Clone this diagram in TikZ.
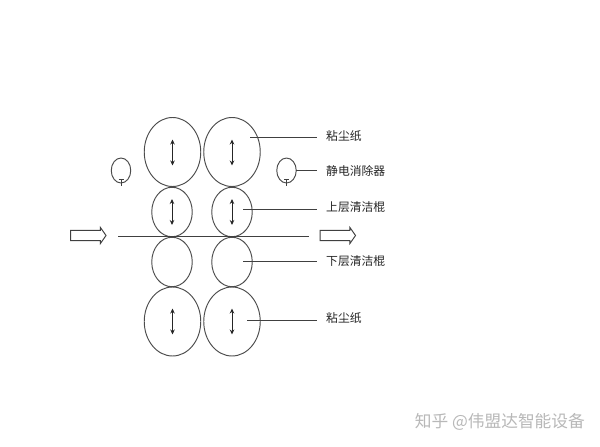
\documentclass[tikz,border=0pt]{standalone}
\usepackage{fontspec}
\newfontfamily\cjk{Noto Sans CJK SC}
\usetikzlibrary{shapes.geometric,shapes.arrows,arrows.meta}
\tikzset{
 roller/.style={draw=black!70,line width=0.95pt,ellipse,inner sep=0pt,minimum width=#1},
 bigroller/.style={roller=56.5pt,minimum height=69pt},
 midroller/.style={roller=40.5pt,minimum height=49.5pt},
 smallroller/.style={roller=19.5pt,minimum height=25pt},
 leader/.style={draw=black!75,line width=0.85pt},
 updown/.style={draw=black!85,line width=0.95pt,{Stealth[length=5pt,width=4.5pt]}-{Stealth[length=5pt,width=4.5pt]}},
 flow/.style={draw=black!75,line width=0.95pt,fill=white,single arrow,inner xsep=0pt,inner ysep=4.6pt,minimum height=35.5pt,single arrow head extend=3pt,single arrow tip angle=110},
 lbl/.style={font=\cjk\fontsize{11.8pt}{12pt}\selectfont,text=black!85,anchor=west,inner sep=0pt}
}
\begin{document}
\begin{tikzpicture}[x=1pt,y=-1pt]
\useasboundingbox (0,0) rectangle (600,447);
\fill[white] (0,0) rectangle (600,447);
% rollers
\node[bigroller] (a1) at (172.5,152) {};
\node[bigroller] (a2) at (232,152) {};
\node[midroller] (b1) at (172,212) {};
\node[midroller] (b2) at (232,212) {};
\node[midroller] (c1) at (172,262) {};
\node[midroller] (c2) at (232,262) {};
\node[bigroller] (d1) at (172.5,321.5) {};
\node[bigroller] (d2) at (232,321.5) {};
\node[smallroller] (s1) at (121,170.5) {};
\node[smallroller] (s2) at (286.5,170.5) {};
\draw[leader] (s1.south) ++(0,-4) coordinate (s1a) -- ++(0,7) coordinate (s1b);
\draw[leader] (s1a) ++(-2.5,0) -- ++(5,0);
\draw[leader] (s2.south) ++(0,-4) coordinate (s2a) -- ++(0,7) coordinate (s2b);
\draw[leader] (s2a) ++(-2.5,0) -- ++(5,0);
% up-down arrows
\foreach \n/\x/\y in {a1/172.5/152.5,a2/232/152.5,b1/172/212,b2/232/212,d1/172.5/321.5,d2/232/321.5}{
  \coordinate (\n t) at (\x,\y-13);
  \coordinate (\n b) at (\x,\y+13);
  \draw[updown] (\n t) -- (\n b);
}
% web
\coordinate (w1) at (118,236.5);
\coordinate (w2) at (309,236.5);
\draw[leader,line width=1pt] (w1) -- (w2);
\node[flow] (f1) at (86.5,235.5) {};
\node[flow] (f2) at (336,235.5) {};
% labels
\node[lbl] (l1) at (326,136) {粘尘纸};
\node[lbl] (l2) at (326,171) {静电消除器};
\node[lbl] (l3) at (326,207) {上层清洁棍};
\node[lbl] (l4) at (326,261) {下层清洁棍};
\node[lbl] (l5) at (326,318) {粘尘纸};
% leaders
\coordinate (e1) at (250,137); \coordinate (e1b) at (317,137);
\draw[leader] (e1) -- (e1b);
\coordinate (e2) at (296,170); \coordinate (e2b) at (317,170);
\draw[leader] (e2) -- (e2b);
\coordinate (e3) at (243,209); \coordinate (e3b) at (317,209);
\draw[leader] (e3) -- (e3b);
\coordinate (e4) at (243,261); \coordinate (e4b) at (317,261);
\draw[leader] (e4) -- (e4b);
\coordinate (e5) at (247,320.5); \coordinate (e5b) at (317,320.5);
\draw[leader] (e5) -- (e5b);
% watermark
\node[font=\cjk\fontsize{16.7pt}{17pt}\selectfont,text=black!28,anchor=east,inner sep=0pt] (wm) at (585,422) {知乎 @伟盟达智能设备};
\end{tikzpicture}
\end{document}
